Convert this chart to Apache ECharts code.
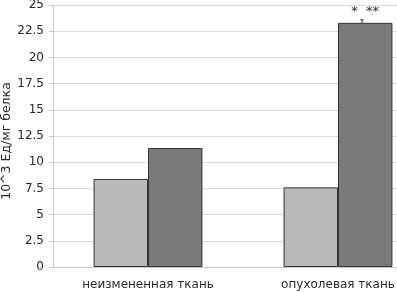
<!DOCTYPE html>
<html><head><meta charset="utf-8">
<script src="https://cdn.jsdelivr.net/npm/echarts@6/dist/echarts.min.js"></script>
<style>html,body{margin:0;padding:0;background:#fff;overflow:hidden;width:397px;height:292px}#c{width:433px;height:292px}</style>
</head><body><div id="c"></div>
<script>
var categories = ['неизмененная ткань', 'опухолевая ткань'];
var lightValues = [8.4, 7.6];
var darkValues = [11.35, 23.3];
var darkErrors = [0, 0.3];
var darkMarks = ['', '*  **'];
var yTicks = ['0','2.5','5','7.5','10','12.5','15','17.5','20','22.5','25'];
var yName = '10^3 Ед/мг белка';

var chart = echarts.init(document.getElementById('c'), null, {renderer: 'canvas'});
var font = 'DejaVu Sans, sans-serif';
chart.setOption({
  animation: false,
  grid: {left: 53, right: 0, top: 5, bottom: 25, containLabel: false, outerBoundsMode: 'none'},
  graphic: [{
    type: 'text', x: 7, y: 141, rotation: Math.PI / 2,
    style: {text: yName, fill: '#2a2a2a', font: '12.5px DejaVu Sans, sans-serif',
            textAlign: 'center', textVerticalAlign: 'middle'}
  }],
  xAxis: {
    type: 'category', data: categories,
    axisLine: {lineStyle: {color: '#c8c8c8'}},
    axisTick: {show: false},
    axisLabel: {color: '#2a2a2a', fontFamily: font, fontSize: 12, margin: 12}
  },
  yAxis: {
    type: 'value', min: 0, max: 25, interval: 2.5,
    axisLine: {show: true, lineStyle: {color: '#c8c8c8'}},
    axisTick: {show: true, length: 4, lineStyle: {color: '#c8c8c8'}},
    axisLabel: {color: '#2a2a2a', fontFamily: font, fontSize: 12, margin: 9,
      formatter: function(v){ return yTicks[Math.round(v/2.5)]; }},
    splitLine: {lineStyle: {color: '#dcdcdc'}}
  },
  series: [
    {type: 'bar', data: lightValues, barGap: '0%', barCategoryGap: '42.7%',
     itemStyle: {color: '#bababa', borderColor: '#333', borderWidth: 1}},
    {type: 'bar', data: darkValues,
     itemStyle: {color: '#7a7a7a', borderColor: '#333', borderWidth: 1},
     label: {show: true, position: 'top', distance: 5, color: '#2a2a2a', fontFamily: font, fontSize: 13,
       formatter: function(p){ return darkMarks[p.dataIndex]; }}},
    {type: 'custom', z: 5,
     data: darkValues.map(function(v, i){ return [i, v, darkErrors[i]]; }),
     renderItem: function(params, api){
       var e = api.value(2);
       if (!e) return null;
       var top = api.coord([api.value(0), api.value(1) + e]);
       var bot = api.coord([api.value(0), api.value(1)]);
       var x = top[0] + 24;
       return {type: 'group', children: [
         {type: 'line', shape: {x1: x, y1: top[1], x2: x, y2: bot[1]}, style: {stroke: '#333', lineWidth: 1}},
         {type: 'line', shape: {x1: x - 1.5, y1: top[1], x2: x + 1.5, y2: top[1]}, style: {stroke: '#333', lineWidth: 1}}
       ]};
     }}
  ]
});
</script></body></html>
